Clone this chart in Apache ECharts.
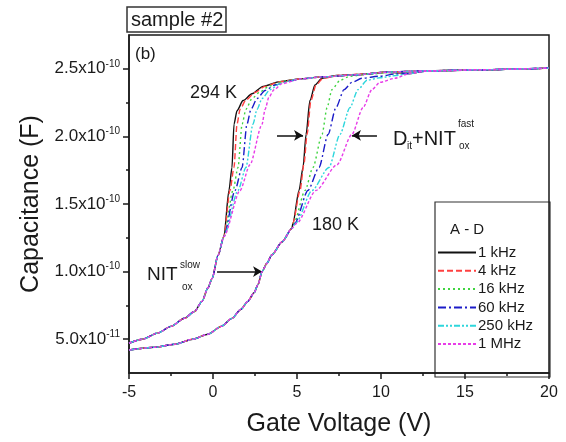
<!DOCTYPE html>
<html>
<head>
<meta charset="utf-8">
<script src="https://cdn.jsdelivr.net/npm/echarts@6/dist/echarts.min.js"></script>
<style>
  html, body { margin: 0; padding: 0; background: #fff; }
  #chart { width: 566px; height: 442px; }
</style>
</head>
<body>
<div id="chart"></div>
<script>
  // capacitance values in units of 1e-10 F, gate voltage in V
  const freqNames = ['1 kHz', '4 kHz', '16 kHz', '60 kHz', '250 kHz', '1 MHz'];
  const freqColors = ['#111111', '#ff4040', '#3fd43f', '#1c1cc8', '#2ed6dc', '#e83ce8'];
  const freqDash = ['solid', [6, 3], [2, 3], [8, 3, 2, 3], [6, 2, 2, 2, 2, 2], [3, 2]];

  const yMajor = [0.5, 1.0, 1.5, 2.0, 2.5];
  const yMinor = [0.75, 1.25, 1.75, 2.25];

  // 294 K
  const low294 = [[-5, 0.47], [-4.2, 0.5], [-3.3, 0.545], [-2.5, 0.595], [-1.7, 0.655], [-1.1, 0.705],
    [-0.65, 0.78], [-0.3, 0.88], [-0.05, 0.95], [0.3, 1.12], [0.65, 1.26]];
  const k1_294 = [[0.95, 1.60], [1.13, 1.77], [1.25, 2.09], [1.43, 2.19], [1.79, 2.265], [2.32, 2.315], [2.98, 2.37], [3.99, 2.405], [5.18, 2.425]];
  const k4_294 = [[1.01, 1.60], [1.25, 1.77], [1.43, 2.09], [1.61, 2.20], [1.96, 2.27], [2.50, 2.325], [3.10, 2.37], [3.99, 2.405], [5.18, 2.425]];
  const k16_294 = [[1.19, 1.60], [1.49, 1.77], [1.73, 2.09], [1.96, 2.20], [2.32, 2.28], [2.80, 2.33], [3.39, 2.375], [4.29, 2.41], [5.18, 2.425]];
  const k60_294 = [[1.31, 1.60], [1.73, 1.77], [2.02, 2.09], [2.26, 2.20], [2.62, 2.28], [3.10, 2.34], [3.69, 2.38], [4.58, 2.41], [5.18, 2.425]];
  const k250_294 = [[1.49, 1.60], [1.96, 1.77], [2.38, 2.09], [2.62, 2.20], [2.92, 2.28], [3.39, 2.345], [3.99, 2.39], [4.88, 2.42]];
  const m1_294 = [[1.61, 1.60], [2.20, 1.79], [2.92, 2.09], [3.10, 2.20], [3.33, 2.29], [3.63, 2.345], [4.11, 2.39], [5.18, 2.425]];
  const top294 = [[6.5, 2.44], [8.57, 2.456], [10.36, 2.475], [12.6, 2.485], [15.9, 2.493], [20, 2.505]];

  // 180 K
  const low180 = [[-5, 0.42], [-3.5, 0.44], [-2.26, 0.463], [-1.2, 0.5], [-0.3, 0.537], [0.5, 0.595], [1.13, 0.654],
    [1.65, 0.72], [2.08, 0.78], [2.45, 0.845], [2.68, 0.905], [2.92, 1.0], [3.2, 1.06], [3.51, 1.125], [4.11, 1.22], [4.7, 1.32]];
  const k1_180 = [[4.76, 1.36], [5.12, 1.60], [5.36, 1.77], [5.54, 2.015], [5.77, 2.265], [6.07, 2.38], [6.49, 2.43], [7.38, 2.45], [8.57, 2.458], [10.36, 2.474]];
  const k4_180 = [[4.76, 1.36], [5.18, 1.60], [5.42, 1.80], [5.60, 2.015], [5.83, 2.265], [6.13, 2.38], [6.55, 2.43], [7.56, 2.452], [8.8, 2.46], [10.36, 2.474]];
  const k16_180 = [[4.82, 1.36], [5.48, 1.60], [5.95, 1.77], [6.49, 2.015], [6.79, 2.213], [7.08, 2.346], [7.56, 2.415], [8.15, 2.445], [9.2, 2.46], [10.5, 2.472]];
  const k60_180 = [[4.88, 1.36], [5.65, 1.60], [6.31, 1.77], [6.85, 2.015], [7.32, 2.213], [7.80, 2.346], [8.27, 2.40], [8.87, 2.43], [9.9, 2.445], [10.9, 2.462]];
  const k250_180 = [[4.94, 1.36], [5.89, 1.60], [6.90, 1.77], [7.56, 2.015], [8.15, 2.213], [8.63, 2.346], [9.17, 2.415], [9.94, 2.434], [10.9, 2.45]];
  const m1_180 = [[5.0, 1.36], [6.13, 1.60], [7.38, 1.79], [8.27, 2.015], [8.93, 2.213], [9.46, 2.346], [9.94, 2.40], [10.83, 2.43]];
  const top180 = [[11.7, 2.465], [12.6, 2.482], [15.9, 2.493], [20, 2.505]];

  const up294 = [k1_294, k4_294, k16_294, k60_294, k250_294, m1_294];
  const up180 = [k1_180, k4_180, k16_180, k60_180, k250_180, m1_180];

  // arrows (data coords)
  const arrows = [
    [[3.81, 2.007], [5.36, 2.007]],
    [[9.76, 2.007], [8.27, 2.007]],
    [[0.24, 1.0], [2.92, 1.0]]
  ];

  const FONT = "'Liberation Sans', Arial, Helvetica, sans-serif";
  const chart = echarts.init(document.getElementById('chart'));

  const series = [];
  freqNames.forEach((name, i) => {
    const base = {
      name: name,
      type: 'line',
      showSymbol: false,
      symbol: 'none',
      smooth: 0.25,
      smoothMonotone: 'x',
      color: freqColors[i],
      lineStyle: { width: 1.4, type: freqDash[i], color: freqColors[i] },
      z: 2 + i
    };
    series.push(Object.assign({}, base, { data: low294.concat(up294[i], top294) }));
    series.push(Object.assign({}, base, { data: low180.concat(up180[i], top180) }));
  });
  series.push({
    type: 'line',
    data: [],
    markLine: {
      silent: true,
      animation: false,
      symbol: ['none', 'arrow'],
      symbolSize: [8, 9],
      label: { show: false },
      lineStyle: { color: '#111', width: 1.5, type: 'solid' },
      data: arrows.map(a => [{ coord: a[0] }, { coord: a[1] }])
    },
    z: 20
  });

  function yLabel(v) {
    const f = v * 1e-10;
    const e = Math.floor(Math.log10(f) + 1e-9);
    const m = (f / Math.pow(10, e)).toFixed(1);
    return '{a|' + m + 'x10}{s|' + e + '}';
  }

  const txt = (text, x, y, size, extra) => ({
    type: 'text',
    style: Object.assign({ text: text, x: x, y: y, fontSize: size, fontFamily: FONT, fill: '#1a1a1a', verticalAlign: 'middle', align: 'left' }, extra || {})
  });

  chart.setOption({
    animation: false,
    backgroundColor: '#fff',
    grid: { left: 129, right: 17, top: 35, bottom: 65, show: true, borderColor: '#1a1a1a', borderWidth: 1.5 },
    legend: {
      orient: 'vertical',
      left: 437,
      top: 245,
      itemWidth: 38,
      itemHeight: 10,
      itemGap: 3.3,
      padding: 0,
      itemStyle: { opacity: 0 },
      textStyle: { fontSize: 15, fontFamily: FONT, color: '#1a1a1a', padding: [0, 0, 0, -3] },
      data: freqNames
    },
    xAxis: {
      type: 'value',
      min: -5,
      max: 20,
      interval: 5,
      name: 'Gate Voltage (V)',
      nameLocation: 'middle',
      nameGap: 39,
      nameTextStyle: { fontSize: 25, fontFamily: FONT, color: '#1a1a1a' },
      axisLine: { show: true, onZero: false, lineStyle: { color: '#1a1a1a', width: 1.5 } },
      axisTick: { show: true, inside: false, length: 6, lineStyle: { color: '#1a1a1a', width: 1.5 } },
      minorTick: { show: true, splitNumber: 2, length: 3, lineStyle: { color: '#1a1a1a', width: 1.5 } },
      splitLine: { show: false },
      minorSplitLine: { show: false },
      axisLabel: { fontSize: 16, fontFamily: FONT, color: '#1a1a1a', margin: 12, showMinLabel: true, showMaxLabel: true }
    },
    yAxis: [{
      type: 'value',
      min: 0.25,
      max: 2.75,
      name: 'Capacitance (F)',
      nameLocation: 'middle',
      nameGap: 82,
      nameTextStyle: { fontSize: 25, fontFamily: FONT, color: '#1a1a1a' },
      axisLine: { show: true, onZero: false, lineStyle: { color: '#1a1a1a', width: 1.5 } },
      axisTick: { show: true, inside: false, length: 6, customValues: yMajor, lineStyle: { color: '#1a1a1a', width: 1.5 } },
      splitLine: { show: false },
      axisLabel: {
        customValues: yMajor,
        margin: 9,
        formatter: yLabel,
        rich: {
          a: { fontSize: 17, fontFamily: FONT, color: '#1a1a1a' },
          s: { fontSize: 10, fontFamily: FONT, color: '#1a1a1a', padding: [0, 0, 10, 0] }
        }
      }
    }, {
      type: 'value',
      min: 0.25,
      max: 2.75,
      position: 'left',
      axisLine: { show: false, onZero: false },
      axisTick: { show: true, inside: false, length: 3, customValues: yMinor, lineStyle: { color: '#1a1a1a', width: 1.5 } },
      axisLabel: { show: false },
      splitLine: { show: false }
    }],
    graphic: [
      { type: 'rect', shape: { x: 127, y: 7, width: 99, height: 25 }, style: { fill: 'none', stroke: '#333', lineWidth: 1.5 } },
      txt('sample #2', 131, 20, 20),
      txt('(b)', 135, 54, 17),
      txt('294 K', 190, 93, 18),
      txt('180 K', 312, 225, 18),
      txt('D', 393, 139, 20),
      txt('it', 407, 146, 10),
      txt('+NIT', 412, 139, 20),
      txt('fast', 458, 124, 10),
      txt('ox', 459, 146, 10),
      txt('NIT', 147, 275, 19),
      txt('slow', 180, 265, 10),
      txt('ox', 182, 287, 10),
      { type: 'rect', shape: { x: 435, y: 202, width: 115, height: 175 }, style: { fill: '#fff', stroke: '#333', lineWidth: 1.2 }, z: -1 },
      txt('A - D', 450, 230, 15)
    ],
    series: series
  });
</script>
</body>
</html>
